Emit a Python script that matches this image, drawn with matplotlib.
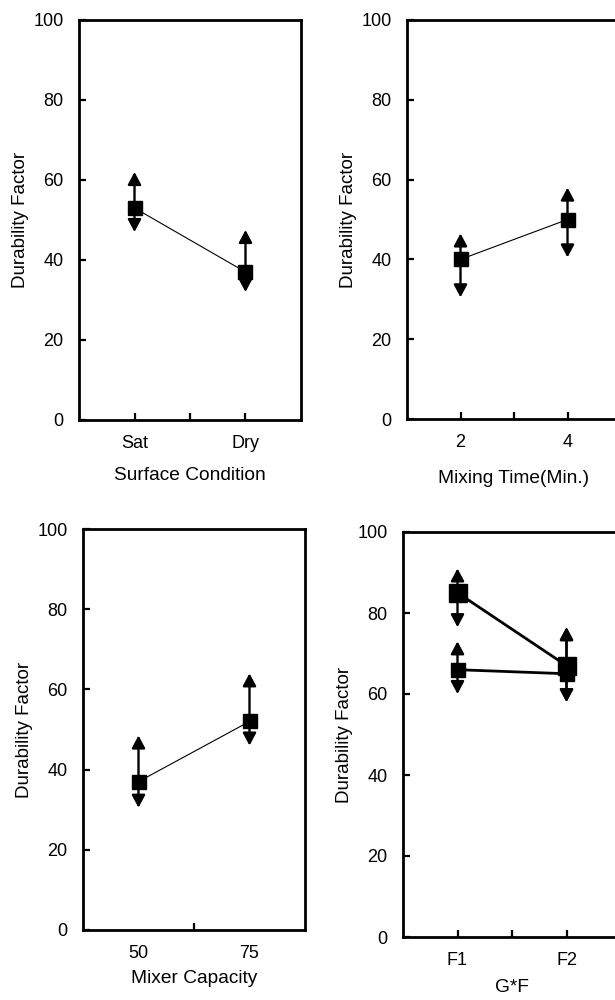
import matplotlib.pyplot as plt

plt.rcParams['font.family'] = ['Liberation Sans', 'DejaVu Sans']
plt.rcParams['font.size'] = 13

# surface condition
surface_labels = ['Sat', 'Dry']
surface_mean = [53, 37]
surface_hi = [62, 47.5]
surface_lo = [47, 32]

# mixing time (min.)
mixing_time = [2, 4]
mixing_mean = [40, 50]
mixing_hi = [46.5, 58]
mixing_lo = [30.5, 40.5]

# mixer capacity
capacity_labels = ['50', '75']
capacity_mean = [37, 52]
capacity_hi = [48.5, 64]
capacity_lo = [30.5, 46]

# G*F interaction, two series
gf_labels = ['F1', 'F2']
gf_a_mean = [85, 67]
gf_a_hi = [91, 76.5]
gf_a_lo = [76.5, 58]
gf_b_mean = [66, 65]
gf_b_hi = [73, 76.5]
gf_b_lo = [60, 58]

W, H = 615, 1000
fig = plt.figure(figsize=(W / 100, H / 100), dpi=100)


def make_axes(left, top, right, bottom):
    # pixel box -> figure fraction
    return fig.add_axes([left / W, 1 - bottom / H, (right - left) / W, (bottom - top) / H])


def draw_series(ax, x, mean, hi, lo, ms, lw):
    ax.plot(x, mean, color='k', lw=lw, zorder=2)
    for xi, h, l in zip(x, hi, lo):
        ax.annotate('', xy=(xi, h), xytext=(xi, l),
                    arrowprops=dict(arrowstyle='<|-|>,head_length=0.75,head_width=0.4',
                                    mutation_scale=10, lw=1.7, color='k',
                                    shrinkA=0, shrinkB=0), zorder=3)
    ax.plot(x, mean, 's', color='k', ms=ms, zorder=4)


def style(ax, xpos, xlim, xticklabels, mid, xlabel, ylab_off, xlab_off, major_len=5):
    w = ax.get_position().width * W
    h = ax.get_position().height * H
    ax.set_xlim(*xlim)
    ax.set_ylim(0, 100)
    ax.set_yticks([0, 20, 40, 60, 80, 100])
    ax.set_xticks(xpos)
    ax.set_xticklabels(xticklabels)
    ax.set_xticks([mid], minor=True)
    ax.tick_params(axis='both', which='both', direction='in', width=1.6, pad=11)
    ax.tick_params(axis='x', which='major', length=major_len)
    ax.tick_params(axis='x', which='minor', length=5)
    ax.tick_params(axis='y', length=5)
    for s in ax.spines.values():
        s.set_linewidth(2)
    ax.set_ylabel('Durability Factor', fontsize=13.5)
    ax.yaxis.set_label_coords(-ylab_off / w, 0.5)
    ax.set_xlabel(xlabel, fontsize=13.8)
    ax.xaxis.set_label_coords((mid - xlim[0]) / (xlim[1] - xlim[0]), -xlab_off / h)


# top left
ax1 = make_axes(79, 20, 301, 420)
draw_series(ax1, [1, 2], surface_mean, surface_hi, surface_lo, 10, 0.8)
style(ax1, [1, 2], (0.5, 2.5), surface_labels, 1.5, 'Surface Condition', 50, 47)

# top right (cut at the figure edge)
ax2 = make_axes(407, 20, 621, 419)
draw_series(ax2, mixing_time, mixing_mean, mixing_hi, mixing_lo, 10, 0.8)
style(ax2, mixing_time, (1, 5), [str(v) for v in mixing_time], 3, 'Mixing Time(Min.)', 50, 51)

# bottom left
ax3 = make_axes(83, 529, 305, 930)
draw_series(ax3, [1, 2], capacity_mean, capacity_hi, capacity_lo, 10, 0.8)
style(ax3, [1, 2], (0.5, 2.5), capacity_labels, 1.5, 'Mixer Capacity', 50, 40, major_len=0)

# bottom right (cut at the figure edge)
ax4 = make_axes(403, 532, 621, 937)
draw_series(ax4, [1, 2], gf_b_mean, gf_b_hi, gf_b_lo, 10, 2)
draw_series(ax4, [1, 2], gf_a_mean, gf_a_hi, gf_a_lo, 13, 2)
style(ax4, [1, 2], (0.5, 2.5), gf_labels, 1.5, 'G*F', 50, 42)

plt.savefig('out.png', dpi=100)
